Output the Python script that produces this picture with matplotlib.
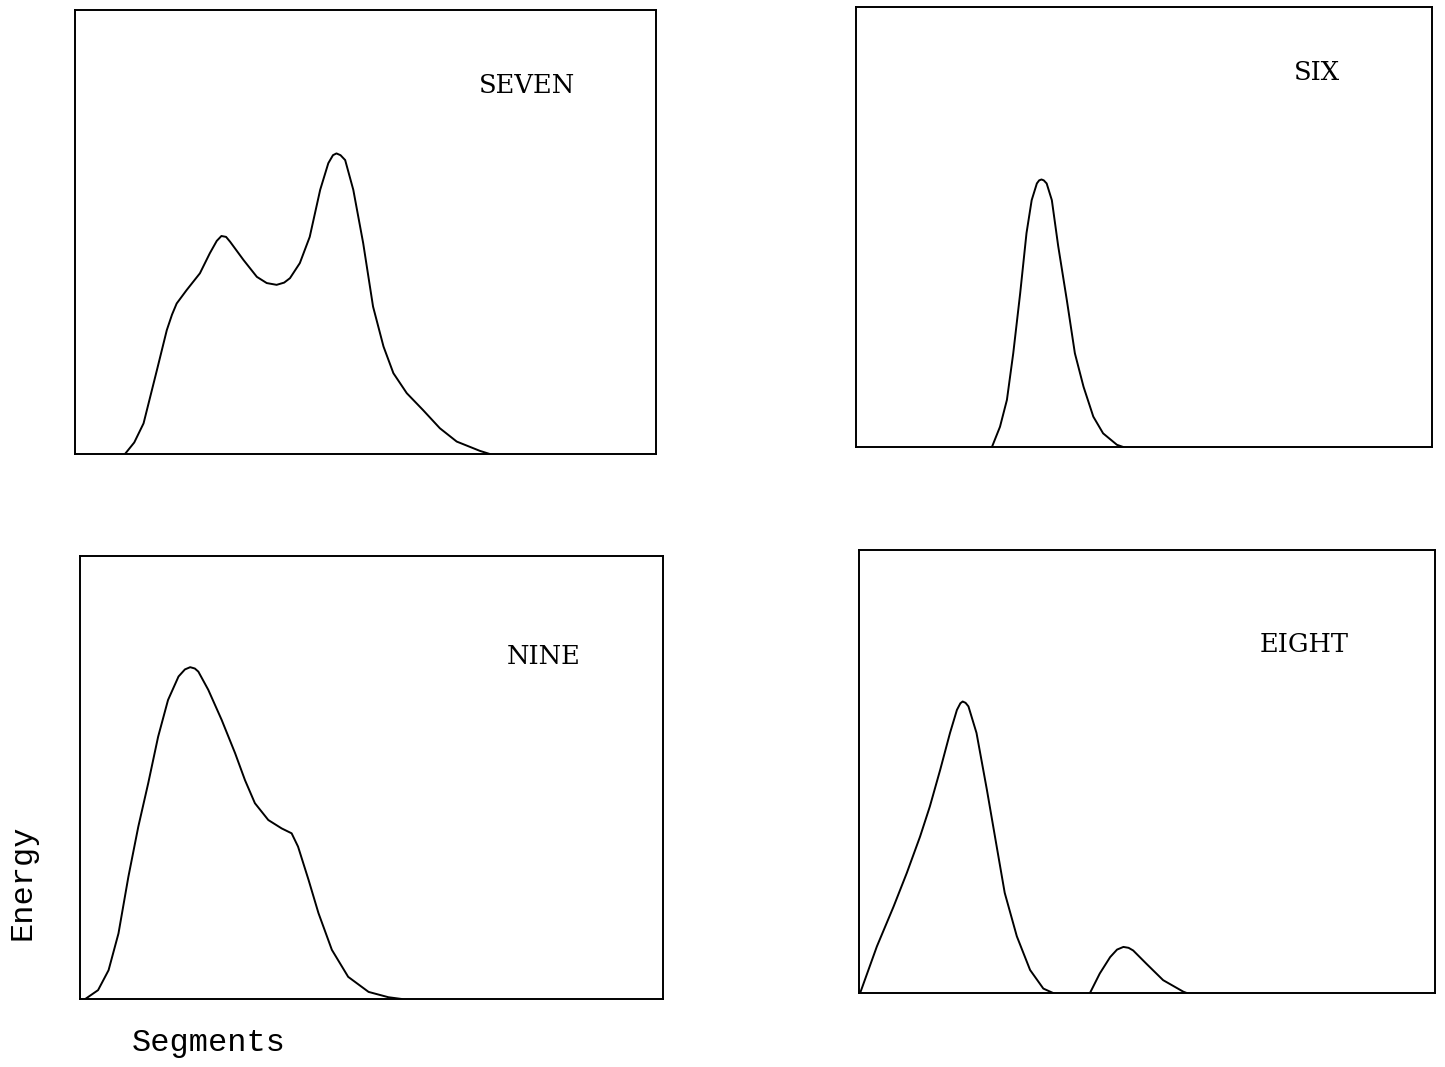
import matplotlib
matplotlib.use("Agg")
import matplotlib.pyplot as plt
import numpy as np

# ---- data (x = segment position 0-100, y = energy 0-100) ----
seven_x = [8.6, 10.2, 11.8, 14.1, 15.8, 16.7, 17.5, 19.2, 21.5, 23.2, 24.4, 25.2, 26.0, 26.7, 29.0,
           31.3, 33.0, 34.7, 36.0, 37.0, 38.7, 40.4, 42.2, 43.6, 44.4, 45.0, 45.7, 46.5, 47.9, 49.6,
           51.3, 53.1, 54.8, 57.1, 59.9, 62.8, 65.7, 69.7, 71.4]
seven_y = [0.0, 2.6, 6.9, 18.9, 27.9, 31.4, 33.9, 36.9, 40.7, 45.2, 48.0, 49.1, 48.9, 47.8, 43.7,
           39.9, 38.5, 38.1, 38.6, 39.6, 43.0, 48.9, 59.5, 65.5, 67.3, 67.7, 67.3, 66.2, 59.5, 47.5,
           33.2, 24.2, 18.2, 13.7, 9.9, 5.8, 2.8, 0.7, 0.0]

six_x = [23.6, 25.0, 26.2, 27.3, 28.5, 29.6, 30.5, 31.4, 31.8, 32.2, 32.6, 33.1, 34.0, 35.1, 36.6,
         38.0, 39.5, 41.2, 42.9, 45.3, 46.4]
six_y = [0.0, 4.6, 10.7, 21.3, 34.9, 48.6, 56.1, 59.9, 60.6, 60.8, 60.6, 59.9, 56.1, 45.7, 33.4,
         21.3, 13.7, 6.9, 3.1, 0.5, 0.0]

nine_x = [0.9, 3.1, 4.9, 6.6, 8.3, 10.0, 11.7, 13.4, 15.1, 16.9, 18.0, 18.9, 19.7, 20.3, 22.0,
          24.3, 26.6, 28.3, 30.0, 32.3, 34.6, 36.3, 37.4, 39.2, 40.9, 43.2, 46.0, 49.5, 52.9, 55.2]
nine_y = [0.0, 2.0, 6.5, 14.8, 27.6, 38.9, 48.7, 59.2, 67.5, 72.8, 74.4, 74.9, 74.6, 73.9, 69.8,
          63.0, 55.5, 49.4, 44.2, 40.4, 38.5, 37.4, 34.4, 26.9, 19.4, 11.1, 5.0, 1.6, 0.4, 0.0]

eight_main_x = [0.2, 3.1, 6.0, 8.3, 10.6, 12.3, 14.1, 15.8, 17.0, 17.6, 18.0, 18.5, 19.0, 20.4, 22.2,
                23.9, 25.3, 27.4, 29.7, 32.0, 33.7]
eight_main_y = [0.0, 10.5, 19.5, 27.1, 35.3, 42.1, 50.4, 58.7, 63.9, 65.4, 65.8, 65.5, 64.7, 58.7, 45.9,
                33.1, 22.6, 12.8, 5.2, 1.0, 0.0]
eight_small_x = [40.1, 41.8, 43.6, 44.8, 45.9, 46.8, 47.6, 49.9, 52.8, 56.3, 56.9]
eight_small_y = [0.0, 4.4, 8.1, 9.8, 10.4, 10.2, 9.6, 6.6, 2.9, 0.3, 0.0]

titles = ["SEVEN", "SIX", "NINE", "EIGHT"]

# ---- figure ----
W, H = 1445, 1067
fig = plt.figure(figsize=(W / 100, H / 100), dpi=100)
fig.patch.set_facecolor("white")

# axes boxes (pixel rectangles: left, top, right, bottom)
boxes = [(75, 10, 656, 454), (856, 7, 1432, 447), (80, 556, 663, 999), (859, 550, 1435, 993)]
title_pos = [(0.778, 0.831), (0.800, 0.850), (0.796, 0.774), (0.773, 0.786)]

series = [
    [(seven_x, seven_y)],
    [(six_x, six_y)],
    [(nine_x, nine_y)],
    [(eight_main_x, eight_main_y), (eight_small_x, eight_small_y)],
]

for (l, t, r, b), title, tp, ser in zip(boxes, titles, title_pos, series):
    ax = fig.add_axes([l / W, 1 - b / H, (r - l) / W, (b - t) / H])
    for xs, ys in ser:
        ax.plot(xs, ys, color="black", lw=1.4, solid_joinstyle="round", solid_capstyle="round")
    ax.set_xlim(0, 100)
    ax.set_ylim(0, 100)
    ax.set_xticks([])
    ax.set_yticks([])
    for s in ax.spines.values():
        s.set_linewidth(1.4)
        s.set_color("black")
    ax.text(tp[0], tp[1], title, transform=ax.transAxes, ha="center", va="center",
            fontsize=18.5, family="DejaVu Serif", color="black")

fig.text(209 / W, 1 - 1043 / H, "Segments", ha="center", va="center",
         fontsize=23, family="Liberation Mono", color="black")
fig.text(22 / W, 1 - 882 / H, "Energy", ha="center", va="center", rotation=90,
         fontsize=23, family="Liberation Mono", color="black")

fig.savefig("out.png", dpi=100, facecolor="white")
